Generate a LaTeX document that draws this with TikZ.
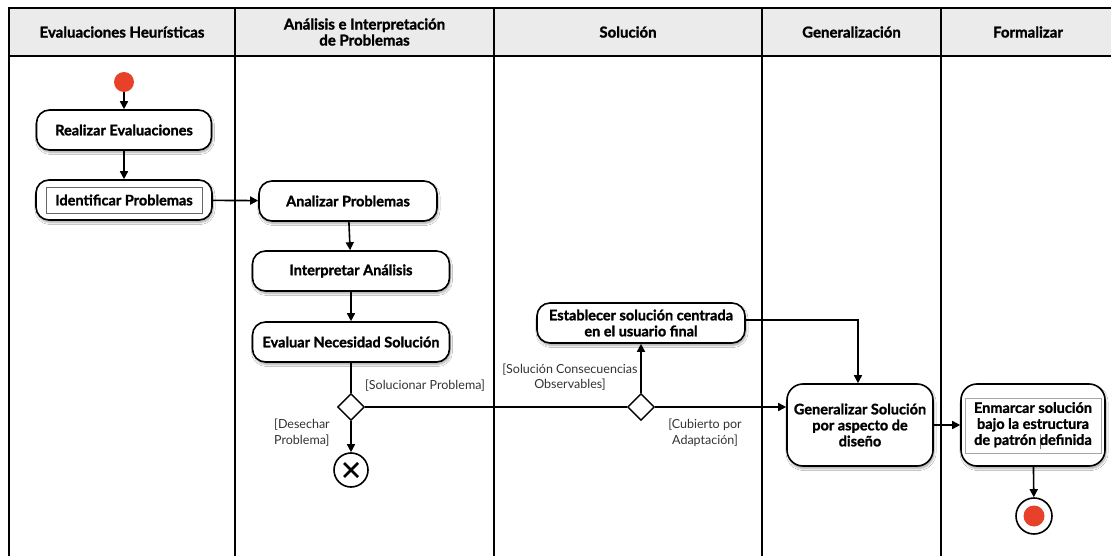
\documentclass[tikz,border=0pt]{standalone}
\usepackage{fontspec}
\setmainfont{Lato}[BoldFeatures={FakeBold=1.4}]
\usetikzlibrary{arrows.meta,shapes.geometric,shadows.blur}
\definecolor{startred}{HTML}{E8412A}
\definecolor{headgray}{HTML}{EBEBEB}
\newcommand{\textcursor}{\makebox[0pt]{\color{black!55}\rule[-4pt]{0.5pt}{15pt}}}
\begin{document}
\begin{tikzpicture}[x=1pt,y=-1pt,
  lane/.style={line width=1.6pt},
  action/.style={draw,line width=1.6pt,fill=white,rounded corners=13pt,
    font=\bfseries\fontsize{14.5}{16}\selectfont,align=center,inner sep=0pt,
    minimum height=40pt,
    blur shadow={shadow xshift=1pt,shadow yshift=-2.5pt,shadow blur steps=6,shadow opacity=35}},
  tallaction/.style={action,rounded corners=16pt,minimum height=82pt},
  headtext/.style={font=\bfseries\fontsize{15}{16}\selectfont,align=center},
  guard/.style={font=\fontsize{12.5}{15.5}\selectfont,align=center,text=black!80,inner sep=0pt},
  decision/.style={draw,diamond,line width=1.4pt,fill=white,inner sep=0pt,
    minimum width=27pt,minimum height=27pt},
  flow/.style={line width=1.6pt,-{Triangle[length=8pt,width=8pt]}},
  plain/.style={line width=1.6pt}]
\useasboundingbox (0,0) rectangle (1111,556);
% swimlane frame and header band
\fill[white] (0,0) rectangle (1111,556);
\fill[headgray] (9,8) rectangle (1111,56);
\draw[lane] (1111,8) -- (9,8) -- (9,556);
\draw[lane] (9,56) -- (1111,56);
\foreach \lx in {235,494,762,941} \draw[lane] (\lx,8) -- (\lx,556);
\node[headtext] (h1) at (122,32) {Evaluaciones Heurísticas};
\node[headtext] (h2) at (364.5,32) {Análisis e Interpretación\\de Problemas};
\node[headtext] (h3) at (628,32) {Solución};
\node[headtext] (h4) at (851.5,32) {Generalización};
\node[headtext] (h5) at (1028,32) {Formalizar};

% activities
\node[circle,fill=startred,inner sep=0pt,minimum size=20pt] (start) at (124,82) {};
\node[action,minimum width=175pt] (realizar) at (124,130) {Realizar Evaluaciones};
\node[action,minimum width=176pt] (identificar) at (124,200) {};
\node[draw=black!60,line width=0.8pt,minimum width=156pt,minimum height=26pt,inner sep=0pt,
  font=\bfseries\fontsize{14.5}{16}\selectfont] (identxt) at (124,200) {Identificar Problemas};
\node[action,minimum width=178pt] (analizar) at (348,201) {Analizar Problemas};
\node[action,minimum width=197pt] (interpretar) at (351,271) {Interpretar Análisis};
\node[action,minimum width=197pt] (evaluar) at (351,342) {Evaluar Necesidad Solución};
\node[decision] (d1) at (351,407) {};
\node[circle,draw,line width=1.6pt,fill=white,minimum size=34pt,inner sep=0pt] (cancel) at (351,470) {};
\draw[line width=2.6pt] ([shift={(-7pt,7pt)}]cancel.center) -- ([shift={(7pt,-7pt)}]cancel.center)
  ([shift={(-7pt,-7pt)}]cancel.center) -- ([shift={(7pt,7pt)}]cancel.center);
\node[action,minimum width=208pt] (establecer) at (641,323) {Establecer solución centrada\\en el usuario final};
\node[decision] (d2) at (641,407) {};
\node[tallaction,minimum width=146pt] (generalizar) at (860,425) {Generalizar Solución\\por aspecto de\\diseño};
\node[tallaction,minimum width=144pt] (enmarcar) at (1033,425) {};
\node[draw=black!35,line width=0.6pt,minimum width=136pt,minimum height=55pt,inner sep=0pt,
  font=\bfseries\fontsize{14.5}{16}\selectfont,align=center] (enmtxt) at (1033,425.5)
  {Enmarcar solución\\bajo la estructura\\de patrón \textcursor definida};
\node[circle,draw,line width=1.6pt,fill=white,minimum size=36pt,inner sep=0pt] (finish) at (1034,516) {};
\node[circle,fill=startred,minimum size=21pt,inner sep=0pt] (finishdot) at (finish.center) {};

% guards
\node[guard,anchor=west] (gsol) at (365,386) {[Solucionar Problema]};
\node[guard,align=left,anchor=north west] (gdes) at (274,419) {[Desechar\\Problema]};
\node[guard] (gobs) at (570,377) {[Solución Consecuencias\\Observables]};
\node[guard] (gadap) at (705,433) {[Cubierto por\\Adaptación]};

% control flow
\draw[flow] (start) -- (realizar);
\draw[flow] (realizar) -- (identificar);
\draw[flow] (identificar) -- (analizar);
\draw[flow] (analizar) -- (interpretar);
\draw[flow] (interpretar) -- (evaluar);
\draw[plain] (evaluar) -- (d1);
\draw[flow] (d1) -- (cancel);
\draw[plain] (d1) -- (d2);
\draw[flow] (d2) -- (establecer);
\draw[flow] (d2) -- (d2 -| generalizar.west);
\draw[flow] ([yshift=3pt]establecer.east) -| ([xshift=-2pt]generalizar.north);
\draw[flow] (generalizar) -- (enmarcar);
\draw[flow] (enmarcar) -- (finish);
\end{tikzpicture}
\end{document}
